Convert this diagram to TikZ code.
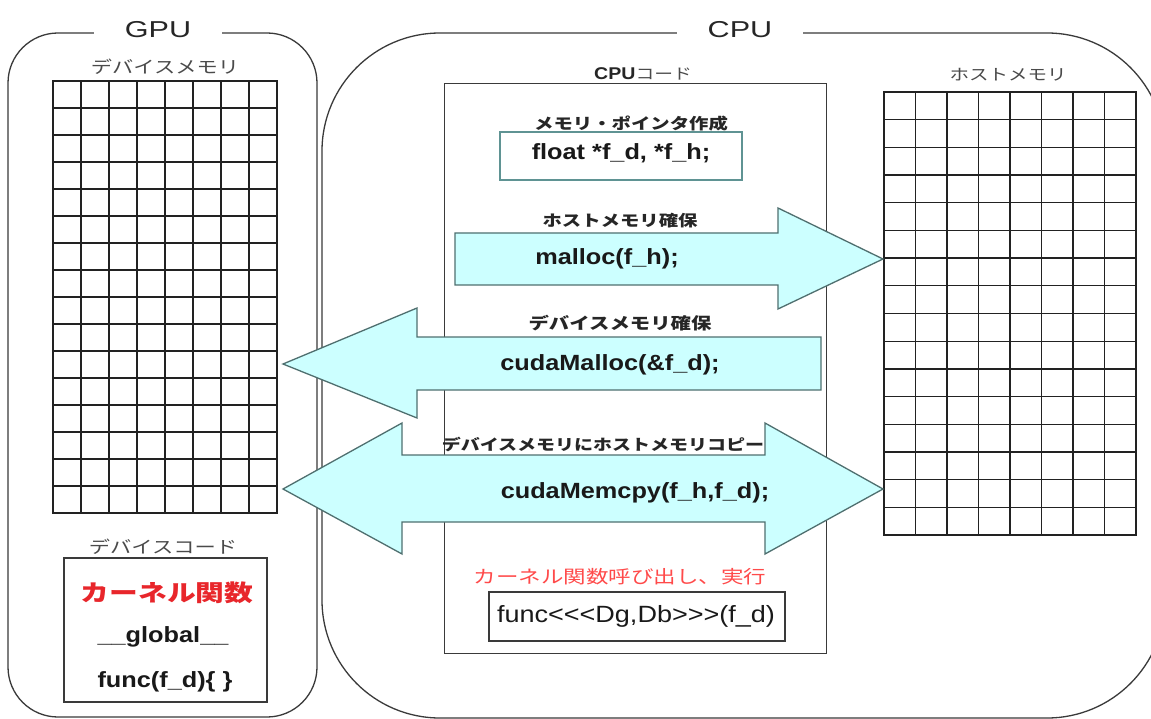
\documentclass[tikz,border=0pt]{standalone}
\usepackage{fontspec}
\setmainfont{Liberation Sans}
\newfontfamily\codefont[FakeStretch=1.15]{Liberation Sans}
\newfontfamily\titlefont[FakeStretch=1.33]{Liberation Sans}
\newfontfamily\jpfont[FakeStretch=1.25]{Noto Sans CJK JP}
\newcommand{\pxsize}[1]{\fontsize{#1}{#1}\selectfont}
\definecolor{arrowfill}{HTML}{CCFFFF}
\definecolor{arrowline}{HTML}{4F6F6F}
\definecolor{frameline}{HTML}{3A3A3A}
\definecolor{gridline}{HTML}{222222}
\definecolor{labelgray}{HTML}{4A4A4A}
\definecolor{kernelred}{HTML}{E8262B}
\definecolor{callred}{HTML}{FF4A4A}
\definecolor{tealbox}{HTML}{5F9393}
\begin{document}
\begin{tikzpicture}[x=1pt,y=-1pt,
  frame/.style={draw=frameline,line width=1.3pt},
  memgrid/.style={draw=gridline,line width=1.3pt,line cap=rect},
  xfer/.style={fill=arrowfill,draw=arrowline,line width=1.3pt},
  boxed/.style={draw=frameline,line width=1.2pt,fill=white,inner sep=0pt},
  title/.style={font=\titlefont\pxsize{23},fill=white,inner xsep=31pt,inner ysep=3pt,text=black!85},
  memlabel/.style={font=\jpfont\pxsize{17},text=labelgray,inner sep=0pt},
  steplabel/.style={font=\jpfont\bfseries\pxsize{15.5},text=black!85,inner sep=0pt},
  code/.style={font=\codefont\bfseries\pxsize{22},text=black!90,inner sep=0pt},
]
\clip (0,0) rectangle (1151,719);
\fill[white] (0,0) rectangle (1151,719);

% processor frames with their titles breaking the top edge
\draw[frame,rounded corners=50pt] (8,33) rectangle (317,717);
\draw[frame,rounded corners=118pt] (322,33) rectangle (1165,718);
\node[title] (gpu) at (158,30) {GPU};
\node[title] (cpu) at (740,30) {CPU};

% device memory: 8 x 16 cells
\foreach \i in {0,...,8} \draw[memgrid] ({53+28*\i},81) -- ({53+28*\i},513);
\foreach \j in {0,...,16} \draw[memgrid] (53,{81+27*\j}) -- (277,{81+27*\j});
\node[memlabel] (devmemlbl) at (165,67) {デバイスメモリ};

% host memory: 8 x 16 cells
\foreach \i in {0,...,8} \draw[memgrid] ({884+31.5*\i},92) -- ({884+31.5*\i},535);
\foreach \j in {0,...,16} \draw[memgrid] (884,{92+27.6875*\j}) -- (1136,{92+27.6875*\j});
\node[memlabel,font=\jpfont\pxsize{15.6}] (hostmemlbl) at (1008,75) {ホストメモリ};

% host code area
\node[boxed,minimum width=382pt,minimum height=570pt,anchor=north west] (cpucode) at (444,83) {};
\node[inner sep=0pt] (cpucodelbl) at (643,74)
  {{\codefont\bfseries\pxsize{17}\color{black!85}CPU}{\jpfont\pxsize{15}\color{labelgray}コード}};

% pointer declaration
\node[steplabel] (ptrlbl) at (631,124) {メモリ・ポインタ作成};
\node[draw=tealbox,line width=1.2pt,fill=white,inner sep=0pt,minimum width=242pt,minimum height=48pt] (ptrbox) at (621,156) {};
\node[code] (ptrcode) at (621,153) {float *f\_d, *f\_h;};

% transfer arrows between the code and the two memories
\coordinate (hostA) at (883,259);
\coordinate (devA) at (283,364);
\coordinate (devB) at (283,489);
\coordinate (hostB) at (883,489);
\draw[xfer] (455,233) -- (778,233) -- (778,208) -- (hostA) -- (778,309) -- (778,285) -- (455,285) -- cycle;
\draw[xfer] (821,337) -- (417,337) -- (417,308) -- (devA) -- (417,418) -- (417,390) -- (821,390) -- cycle;
\draw[xfer] (devB) -- (402,423) -- (402,455) -- (765,455) -- (765,423) -- (hostB)
  -- (765,554) -- (765,522) -- (402,522) -- (402,554) -- cycle;

% step labels and calls
\node[steplabel] (hostalloclbl) at (620,221) {ホストメモリ確保};
\node[code] (malloccode) at (607,259) {malloc(f\_h);};
\node[steplabel,font=\jpfont\bfseries\pxsize{16.3}] (devalloclbl) at (620,323) {デバイスメモリ確保};
\node[code] (cudamalloccode) at (610,365) {cudaMalloc(\&f\_d);};
\node[steplabel,font=\jpfont\bfseries\pxsize{15.2}] (copylbl) at (603,445) {デバイスメモリにホストメモリコピー};
\node[code] (memcpycode) at (635,493) {cudaMemcpy(f\_h,f\_d);};

% kernel launch
\node[inner sep=0pt,font=\jpfont\pxsize{18},text=callred] (calllbl) at (620,577) {カーネル関数呼び出し、実行};
\node[boxed,minimum width=296pt,minimum height=49pt] (callbox) at (637,616.5) {};
\node[inner sep=0pt,font=\codefont\pxsize{23.5},text=black!90] (callcode) at (636,616) {func<{}<{}<Dg,Db>{}>{}>(f\_d)};

% device code
\node[memlabel] (devcodelbl) at (163,547) {デバイスコード};
\node[boxed,minimum width=203pt,minimum height=144pt] (devcode) at (165.5,630) {};
\node[inner sep=0pt,font=\jpfont\bfseries\pxsize{23},text=kernelred] (kernellbl) at (167,593) {カーネル関数};
\node[code] (globalkw) at (163,637) {\_\_global\_\_};
\node[code] (kerneldef) at (165,682) {func(f\_d)\{ \}};
\end{tikzpicture}
\end{document}
